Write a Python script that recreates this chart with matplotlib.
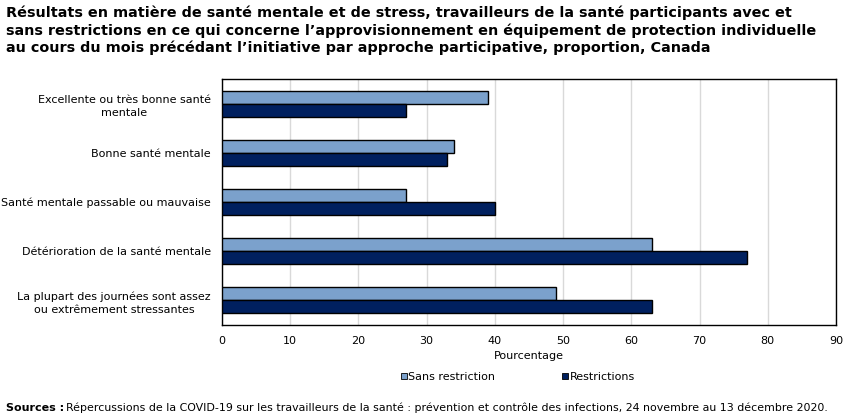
import numpy as np
import matplotlib
matplotlib.use('Agg')
from matplotlib import pyplot as plt
from matplotlib.lines import Line2D

categories = ['Excellente ou très bonne santé\nmentale',
              'Bonne santé mentale',
              'Santé mentale passable ou mauvaise',
              'Détérioration de la santé mentale',
              'La plupart des journées sont assez\nou extrêmement stressantes']
sans_restriction = [39, 34, 27, 63, 49]
restrictions = [27, 33, 40, 77, 63]
series_names = ['Sans restriction', 'Restrictions']
x_ticks = np.arange(0, 91, 10)

light = '#7BA1CC'
dark = '#00205F'

plt.rcParams['font.family'] = 'DejaVu Sans'
fs = 8.0
fig = plt.figure(figsize=(8.51, 4.19), dpi=100)
ax = fig.add_axes([222 / 851, 1 - 325 / 419, (836 - 222) / 851, (325 - 79) / 419])

y = np.arange(len(categories))
h = 0.265
ax.barh(y - h / 2, sans_restriction, height=h, color=light, edgecolor='black', linewidth=1, zorder=3)
ax.barh(y + h / 2, restrictions, height=h, color=dark, edgecolor='black', linewidth=1, zorder=3)

ax.set_xlim(0, 90)
ax.set_ylim(len(categories) - 0.5, -0.5)
ax.set_xticks(x_ticks)
ax.set_xticklabels([str(t) for t in x_ticks], fontsize=fs)
ax.set_yticks(y)
ax.set_yticklabels(categories, fontsize=fs, multialignment='center', linespacing=1.45)
ax.tick_params(axis='x', length=0, pad=8)
ax.tick_params(axis='y', length=0, pad=8)
ax.grid(axis='x', color='#d9d9d9', linewidth=1, zorder=0)
for s in ax.spines.values():
    s.set_color('black')
    s.set_linewidth(1)
ax.set_xlabel('Pourcentage', fontsize=fs, labelpad=3.5)

handles = [Line2D([], [], marker='s', linestyle='none', markersize=5, markerfacecolor=light, markeredgecolor='black', markeredgewidth=0.6),
           Line2D([], [], marker='s', linestyle='none', markersize=5, markerfacecolor=dark, markeredgecolor='black', markeredgewidth=0.6)]
fig.legend(handles, series_names, loc='center', bbox_to_anchor=(517.5 / 851, 1 - 377 / 419), ncol=2,
           frameon=False, fontsize=fs, handlelength=0.6, handletextpad=0.1, columnspacing=6.0)

title = ("Résultats en matière de santé mentale et de stress, travailleurs de la santé participants avec et\n"
         "sans restrictions en ce qui concerne l’approvisionnement en équipement de protection individuelle\n"
         "au cours du mois précédant l’initiative par approche participative, proportion, Canada")
fig.text(6 / 851, 1 - 6 / 419, title, ha='left', va='top', fontsize=10.4, fontweight='bold',
         linespacing=1.24)

fig.text(6 / 851, 1 - 408 / 419, 'Sources :', ha='left', va='center', fontsize=fs, fontweight='bold')
fig.text(66 / 851, 1 - 408 / 419,
         'Répercussions de la COVID-19 sur les travailleurs de la santé : prévention et contrôle des infections, 24 novembre au 13 décembre 2020.',
         ha='left', va='center', fontsize=7.95)

fig.savefig('out.png', dpi=100)
